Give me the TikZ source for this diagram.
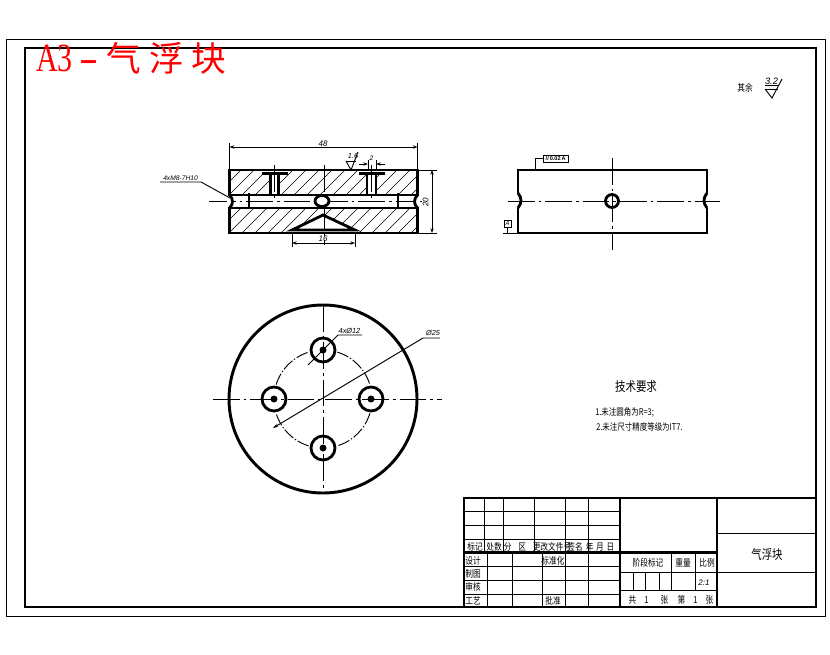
\documentclass[tikz,border=0pt]{standalone}
\usepackage{fontspec}
\setmainfont{Liberation Sans}
\newfontfamily\cjk[FakeStretch=0.8]{Noto Sans CJK SC}
\newfontfamily\redcjk{Noto Sans CJK SC}
\newfontfamily\redlatin[FakeStretch=0.75]{Liberation Serif}
\usetikzlibrary{arrows.meta}
\tikzset{
  thickline/.style={line width=2.1pt},
  thinline/.style={line width=0.7pt},
  cline/.style={line width=0.7pt,dash pattern=on 20pt off 3pt on 2pt off 3pt},
  dimline/.style={line width=0.7pt,{Stealth[length=3.5pt,width=2.5pt]}-{Stealth[length=3.5pt,width=2.5pt]}},
  hatchline/.style={line width=0.5pt},
  dimtext/.style={inner sep=0pt,font=\fontsize{6}{6}\selectfont\itshape},
  celltext/.style={inner sep=0pt,font=\fontsize{7.2}{7.2}\cjk},
  bigtext/.style={inner sep=0pt,font=\fontsize{9.8}{9.8}\cjk},
  notetext/.style={inner sep=0pt,anchor=west,font=\fontsize{7}{7}\cjk}
}
\begin{document}
\begin{tikzpicture}[x=0.75pt,y=-0.75pt]
  \useasboundingbox (0,0) rectangle (830,654);
  \fill[white] (0,0) rectangle (830,654);
  \draw[thinline] (6,39) rectangle (825,616);
  \draw[line width=2.2pt] (25,48) rectangle (816,607);
  \draw (36,58) node[anchor=west,inner sep=0pt,text=red] (banner){%
    {\redlatin\fontsize{30}{30}\selectfont A3}\hspace{5pt}%
    {\redlatin\fontsize{30}{30}\selectfont\scalebox{1.9}[1]{-}}\hspace{6pt}%
    {\redcjk\fontsize{26}{26}\selectfont 气\hspace{6pt}浮\hspace{6pt}块}};
  % front view
  \begin{scope}
    \clip (229.5,170) rectangle (417.5,195) (229.5,208) rectangle (417.5,233);
    \foreach \x in {190,203,...,430} {
      \draw[hatchline] (\x,195) -- (\x+25,170);
      \draw[hatchline] (\x,233) -- (\x+25,208);
    }
  \end{scope}
  \fill[white] (261.7,170) rectangle (288,175);
  \fill[white] (270.7,175) rectangle (278.3,195);
  \fill[white] (359.3,170) rectangle (385,175);
  \fill[white] (367,175) rectangle (376,195);
  \fill[white] (292,233) -- (292,230) -- (323,215) -- (355,230) -- (355,233) -- cycle;
  \draw[cline] (209,201) -- (427,201);
  \draw[cline] (324,165) -- (324,245);
  \draw[cline] (274,165) -- (274,201);
  \draw[cline] (371,165) -- (371,201);
  \draw[thickline] (229.5,170) rectangle (417.5,195);
  \draw[thickline] (229.5,208) rectangle (417.5,233);
  \fill[white] (227,197) rectangle (232,206) (415,197) rectangle (420,206);
  \draw[thickline] (229.5,195) .. controls (233.5,199) and (233.5,204) .. (229.5,208);
  \draw[thickline] (417.5,195) .. controls (413.5,199) and (413.5,204) .. (417.5,208);
  \draw[thickline] (249,193) -- (249,208);
  \draw[thickline] (398,193) -- (398,208);
  \draw[thickline,fill=white] (322,201) ellipse (7 and 5.5);
  \draw[thickline] (261.7,173.5) -- (288,173.5);
  \draw[thickline] (270.7,175) -- (270.7,195);
  \draw[thickline] (278.3,175) -- (278.3,195);
  \draw[thickline] (359.3,173.5) -- (385,173.5);
  \draw[thickline] (367,175) -- (367,195);
  \draw[thickline] (376,175) -- (376,195);
  \draw[thickline] (292,230) -- (323,215) -- (355,230) -- cycle;
  \draw[thinline] (229.5,170) -- (229.5,143);
  \draw[thinline] (417.5,170) -- (417.5,143);
  \draw[dimline] (229.5,147) -- (417.5,147);
  \draw[thinline] (417.5,170) -- (437,170);
  \draw[thinline] (417.5,233) -- (437,233);
  \draw[dimline] (432,170) -- (432,233);
  \draw[thinline] (292,233) -- (292,247);
  \draw[thinline] (355,233) -- (355,247);
  \draw[dimline] (292,243) -- (355,243);
  \draw[thinline] (368,160) -- (368,170);
  \draw[thinline] (376,160) -- (376,170);
  \draw[thinline,-{Stealth[length=3.5pt,width=2.5pt]}] (359,164) -- (368,164);
  \draw[thinline,-{Stealth[length=3.5pt,width=2.5pt]}] (385,164) -- (376,164);
  \draw[thinline] (346,161) -- (351,170) -- (358,152);
  \draw[thinline] (346,161) -- (356,161);
  \draw[thinline] (160,182) -- (201,182) -- (230,198);
  % side view
  \draw[thickline] (518,193) -- (518,170) -- (707,170) -- (707,193);
  \draw[thickline] (518,208) -- (518,233) -- (707,233) -- (707,208);
  \draw[thickline] (518,193) .. controls (522,198) and (522,203) .. (518,208);
  \draw[thickline] (707,193) .. controls (703,198) and (703,203) .. (707,208);
  \draw[cline] (508,201) -- (720,201);
  \draw[cline] (612,158) -- (612,250);
  \draw[thickline] (612,201) circle (6.5);
  \draw[thinline] (535,170) -- (535,158.5) -- (543,158.5);
  \draw[thinline,fill=white] (543,155.5) rectangle (568.5,162);
  \draw[thinline] (507,227) -- (507,233);
  \draw[thinline] (503,233) -- (518,233);
  \draw[thinline] (504,220) rectangle (511,227);
  % roughness mark
  \draw[thinline] (765,89) -- (772,98) -- (782,79);
  \draw[thinline] (765,89) -- (778,89);
  \draw[thinline] (765,85.7) -- (779,85.7);
  % plan view
  \coordinate (ctr) at (323,399);
  \draw[line width=2.2pt] (ctr) circle (94);
  \draw[cline] (213,399) -- (442,399);
  \draw[cline] (323,305) -- (323,493);
  \foreach \a in {0,90,180,270} {
    \draw[thinline,dash pattern=on 9pt off 1.5pt on 1pt off 1.5pt] ([shift={(\a+17:49)}]ctr) arc[start angle=\a+17,end angle=\a+73,radius=49];
  }
  \foreach \px/\py in {323/350,274/399,371/399,323/448} {
    \draw[thickline] (\px,\py) circle (12);
    \fill (\px,\py) circle (3.5);
  }
  \draw[thinline,{Stealth[length=4pt,width=2.5pt]}-] (273,428) -- (423,338) -- (440,338);
  \draw[thinline] (308,365) -- (338,335) -- (362,335);
  % title block
  \draw[thinline] (465,511) -- (620,511);
  \draw[thinline] (465,525) -- (620,525);
  \draw[thinline] (465,539) -- (620,539);
  \draw[thickline] (465,552.5) -- (717,552.5);
  \draw[thinline] (465,566) -- (620,566);
  \draw[thinline] (465,580) -- (620,580);
  \draw[thinline] (465,594) -- (620,594);
  \draw[thinline] (620,572) -- (816,572);
  \draw[thinline] (620,590) -- (717,590);
  \draw[thinline] (717,533) -- (816,533);
  \foreach \x in {484,503,534,565,588} {
    \draw[thinline] (\x,499) -- (\x,552);
  }
  \foreach \x in {487,512,542,565,588} {
    \draw[thinline] (\x,552) -- (\x,607);
  }
  \foreach \x in {633,645,659} {
    \draw[thinline] (\x,572) -- (\x,590);
  }
  \draw[thinline] (671,552) -- (671,590);
  \draw[thinline] (695,552) -- (695,590);
  \draw[thickline] (620,498) -- (620,607);
  \draw[thickline] (717,498) -- (717,607);
  \draw[line width=2.2pt] (464,498) rectangle (816,607);
  % texts
  \draw
    (323,143.5) node[dimtext] (len){48}
    (425.5,202) node[dimtext,rotate=90] (hgt){20}
    (323,238.5) node[dimtext] (base){16}
    (371.5,158.5) node[dimtext,font=\fontsize{5}{5}\selectfont\itshape] (gap){2}
    (353,156) node[dimtext,font=\fontsize{5.5}{5.5}\selectfont\itshape] (rough){1.6}
    (180.5,178.5) node[dimtext,font=\fontsize{5}{5}\selectfont\itshape] (thread){4xM8-7H10}
    (555.7,158.7) node[dimtext,font=\fontsize{4.2}{4.2}\selectfont\bfseries] (tol){//\,0.02\,A}
    (507.5,223.5) node[dimtext,font=\fontsize{4.5}{4.5}\selectfont\itshape] (datum){A}
    (349.5,331) node[dimtext,font=\fontsize{5.5}{5.5}\selectfont\itshape] (holes){4xØ12}
    (433,332.5) node[dimtext,font=\fontsize{5.5}{5.5}\selectfont\itshape] (bolt){Ø25}
    (704,583) node[dimtext] (ratio){2:1}
    (771.5,81.5) node[dimtext,font=\fontsize{7}{7}\selectfont\itshape] (rest){3.2}
    (745,88) node[celltext] (other){其余}
    (636,387) node[bigtext] (req){技术要求}
    (595,412) node[notetext] (note1){1.未注圆角为\textit{R=3};}
    (596,427) node[notetext] (note2){2.未注尺寸精度等级为\textit{IT7}.}
    (475,547) node[celltext] (c1){标记}
    (494,547) node[celltext] (c2){处数}
    (515,547) node[celltext] (c3){分\hspace{5pt}区}
    (552,547) node[celltext] (c4){更改文件号}
    (575,547) node[celltext] (c5){签名}
    (600,547) node[celltext] (c6){年\hspace{2pt}月\hspace{2pt}日}
    (473,561) node[celltext] (c7){设计}
    (553,561) node[celltext] (c8){标准化}
    (473,574) node[celltext] (c9){制图}
    (473,587) node[celltext] (c10){审核}
    (473,601) node[celltext] (c11){工艺}
    (553,601) node[celltext] (c12){批准}
    (648,563) node[celltext] (c13){阶段标记}
    (683,563) node[celltext] (c14){重量}
    (707,563) node[celltext] (c15){比例}
    (671,600) node[celltext] (c16){共\hspace{6pt}\textit{1}\hspace{9pt}张\hspace{7pt}第\hspace{6pt}\textit{1}\hspace{6pt}张}
    (767,555) node[bigtext] (name){气浮块};
\end{tikzpicture}
\end{document}
